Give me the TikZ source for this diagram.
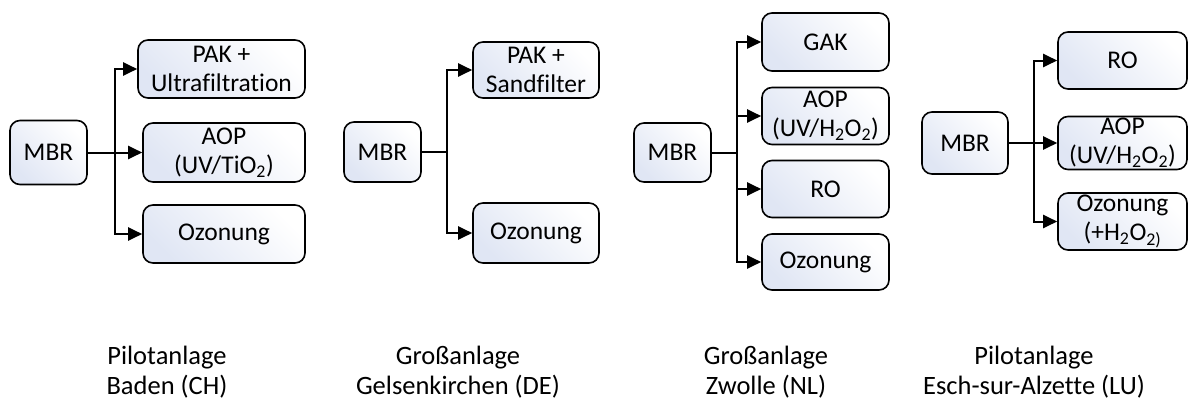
\documentclass[tikz,border=0pt]{standalone}
\usepackage{fontspec}
\setmainfont{Carlito}[Ligatures=NoCommon]
\usetikzlibrary{arrows.meta}
\definecolor{boxshade}{RGB}{224,230,244}
\tikzset{
 box/.style={draw=black, line width=1.6pt, rounded corners=10pt, top color=white, bottom color=boxshade, shading angle=-45, align=center, font=\fontsize{25.5}{29}\selectfont, inner sep=0pt},
 conn/.style={line width=2pt},
 arr/.style={conn, -{Triangle[length=14pt,width=13pt]}},
 lbl/.style={align=center, font=\fontsize{26.5}{30}\selectfont}
}
\begin{document}
\begin{tikzpicture}[x=1pt,y=-1pt]
\useasboundingbox (0,0) rectangle (1196,399);
% Panel 1
\node[box, minimum width=77pt, minimum height=64pt] (m1) at (48.5,152.5) {MBR};
\node[box, minimum width=167pt, minimum height=58pt] (a1) at (221.5,69) {PAK +\\Ultrafiltration};
\node[box, minimum width=162pt, minimum height=59pt] (b1) at (224,152.5) {AOP\\(UV/TiO\textsubscript{2})};
\node[box, minimum width=162pt, minimum height=58pt] (c1) at (224,234) {Ozonung};
\coordinate (j1) at (115,152.5);
\draw[arr] (m1.east) -- (b1.west);
\draw[arr] (j1) |- (a1.west);
\draw[arr] (j1) |- (c1.west);
% Panel 2
\node[box, minimum width=77pt, minimum height=60pt] (m2) at (382.5,152) {MBR};
\node[box, minimum width=126pt, minimum height=56pt] (a2) at (536,70) {PAK +\\Sandfilter};
\node[box, minimum width=126pt, minimum height=60pt] (c2) at (536,233) {Ozonung};
\coordinate (j2) at (447,152);
\draw[conn] (m2.east) -- (j2);
\draw[arr] (j2) |- (a2.west);
\draw[arr] (j2) |- (c2.west);
% Panel 3
\node[box, minimum width=77pt, minimum height=59pt] (m3) at (672.5,152.5) {MBR};
\node[box, minimum width=127pt, minimum height=58pt] (g3) at (825.5,42) {GAK};
\node[box, minimum width=127pt, minimum height=57pt] (a3) at (825.5,116) {AOP\\(UV/H\textsubscript{2}O\textsubscript{2})};
\node[box, minimum width=127pt, minimum height=57pt] (r3) at (825.5,189) {RO};
\node[box, minimum width=127pt, minimum height=56pt] (o3) at (825.5,262) {Ozonung};
\coordinate (j3) at (737,152.5);
\draw[conn] (m3.east) -- (j3);
\draw[arr] (j3) |- (g3.west);
\draw[arr] (j3) |- (a3.west);
\draw[arr] (j3) |- (r3.west);
\draw[arr] (j3) |- (o3.west);
% Panel 4
\node[box, minimum width=86pt, minimum height=62pt] (m4) at (965,143) {MBR};
\node[box, minimum width=129pt, minimum height=57pt] (r4) at (1122.5,60.5) {RO};
\node[box, minimum width=129pt, minimum height=53pt] (a4) at (1122.5,143) {AOP\\(UV/H\textsubscript{2}O\textsubscript{2})};
\node[box, minimum width=129pt, minimum height=57pt] (o4) at (1122.5,221.5) {Ozonung\\(+H\textsubscript{2}O\textsubscript{2)}};
\coordinate (j4) at (1034,143);
\draw[arr] (m4.east) -- (a4.west);
\draw[arr] (j4) |- (r4.west);
\draw[arr] (j4) |- (o4.west);
% Labels
\node[lbl] (l1) at (167,372) {Pilotanlage\\Baden (CH)};
\node[lbl] (l2) at (458,372) {Großanlage\\Gelsenkirchen (DE)};
\node[lbl] (l3) at (766,372) {Großanlage\\Zwolle (NL)};
\node[lbl] (l4) at (1034,372) {Pilotanlage\\Esch-sur-Alzette (LU)};
\end{tikzpicture}
\end{document}
